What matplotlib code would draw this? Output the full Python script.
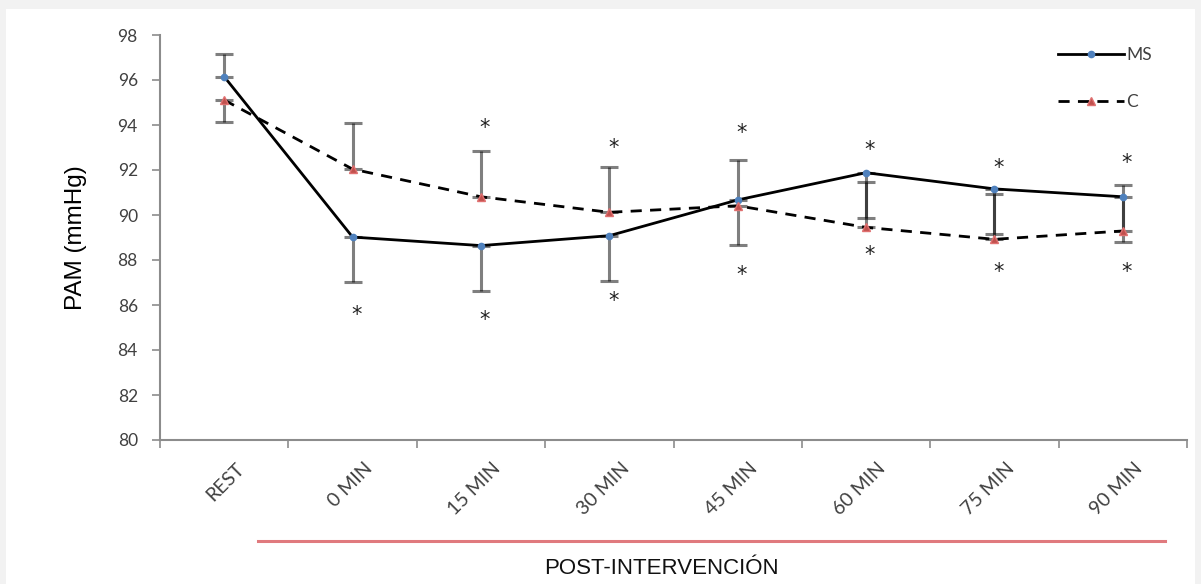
import matplotlib
matplotlib.use("Agg")
import matplotlib.pyplot as plt
from matplotlib.patches import Rectangle
from matplotlib.lines import Line2D
import matplotlib.transforms as mtransforms
import numpy as np

# Data
categories = ["REST", "0 MIN", "15 MIN", "30 MIN", "45 MIN", "60 MIN", "75 MIN", "90 MIN"]
ms_values = [96.15, 89.02, 88.64, 89.08, 90.67, 91.88, 91.16, 90.81]
c_values = [95.11, 92.04, 90.81, 90.12, 90.41, 89.45, 88.92, 89.29]
# MS error bars point downward (REST upward), C error bars upward (REST downward)
ms_err_up = [1.0, 0, 0, 0, 0, 0, 0, 0]
ms_err_down = [0, 2.0, 2.0, 2.02, 2.0, 2.03, 2.02, 2.02]
c_err_up = [0, 2.06, 2.05, 2.03, 2.03, 2.02, 2.01, 2.04]
c_err_down = [0.96, 0, 0, 0, 0, 0, 0, 0]
# Significance marks (category index, y position)
star_above = [(2, 93.85), (3, 93.0), (4, 93.63), (5, 92.89), (6, 92.1), (7, 92.3)]
star_below = [(1, 85.55), (2, 85.33), (3, 86.18), (4, 87.33), (5, 88.22), (6, 87.47), (7, 87.47)]
yticks = list(range(80, 99, 2))

W, H = 1201, 584
fig = plt.figure(figsize=(W / 100, H / 100), dpi=100, facecolor="#f2f2f2")
fig.patches.append(Rectangle((6 / W, 0), (1195 - 6) / W, (H - 9) / H,
                             transform=fig.transFigure, facecolor="white",
                             edgecolor="none", zorder=-5))

ax = fig.add_axes([160 / W, 1 - 440 / H, (1187 - 160) / W, (440 - 35) / H])
ax.set_facecolor("none")
x = np.arange(len(categories))

grey = "#8c8c8c"
ax.errorbar(x, ms_values, yerr=[ms_err_down, ms_err_up], fmt="none",
            ecolor="black", alpha=0.5, elinewidth=2.2, capsize=6.5, capthick=2.2, zorder=2)
ax.errorbar(x, c_values, yerr=[c_err_down, c_err_up], fmt="none",
            ecolor="black", alpha=0.5, elinewidth=2.2, capsize=6.5, capthick=2.2, zorder=2)

ax.plot(x, ms_values, color="black", lw=2, marker="o", ms=4.5,
        mfc="#4f81bd", mec="#4f81bd", label="MS", zorder=3)
ax.plot(x, c_values, color="black", lw=2, ls=(0, (4, 3)), marker="^", ms=6,
        mfc="#c0504d", mec="#e07070", label="C", zorder=3)

for i, yv in star_above + star_below:
    ax.text(i + 0.03, yv, "*", ha="center", va="center", fontsize=15,
            color="#222222", family="DejaVu Sans")

ax.set_xlim(-0.5, len(categories) - 0.5)
ax.set_ylim(80, 98)
ax.set_yticks(yticks)
# Category boundaries carry the tick marks; names are centred under each category
ax.set_xticks(np.arange(-0.5, len(categories), 1.0))
ax.set_xticklabels([])
label_tr = ax.get_xaxis_transform() + mtransforms.ScaledTranslation(
    11 / 100, -20 / 100, fig.dpi_scale_trans)
for i, name in enumerate(categories):
    ax.text(i, 0, name, transform=label_tr, rotation=45, ha="right", va="top",
            rotation_mode="anchor", fontsize=14, color="#404040", family="Lato")

ax.tick_params(axis="x", which="major", length=6, color=grey, width=1.2)
ax.tick_params(axis="y", length=6, color=grey, width=1.2, labelsize=12.5,
               labelcolor="#404040", pad=10)
for lab in ax.get_yticklabels():
    lab.set_family("Lato")

for s in ["top", "right"]:
    ax.spines[s].set_visible(False)
for s in ["left", "bottom"]:
    ax.spines[s].set_color(grey)
    ax.spines[s].set_linewidth(1.5)

ax.set_ylabel("PAM (mmHg)", fontsize=17.5, family="Liberation Sans", labelpad=22)

leg = ax.legend(loc="upper right", bbox_to_anchor=(0.981, 1.008), frameon=False,
                fontsize=12.5, handlelength=3.8, labelspacing=1.75,
                handletextpad=0.15)
for t in leg.get_texts():
    t.set_color("#404040")
    t.set_family("Lato")

fig.add_artist(Line2D([258 / W, 1165 / W], [1 - 541 / H, 1 - 541 / H],
                      transform=fig.transFigure, color="#e07a7e", lw=2.2))
fig.text(661 / W, 1 - 569 / H, "POST-INTERVENCIÓN", ha="center", va="center",
         fontsize=16, family="Liberation Sans", color="#111111")

fig.savefig("out.png", dpi=100, facecolor=fig.get_facecolor())
